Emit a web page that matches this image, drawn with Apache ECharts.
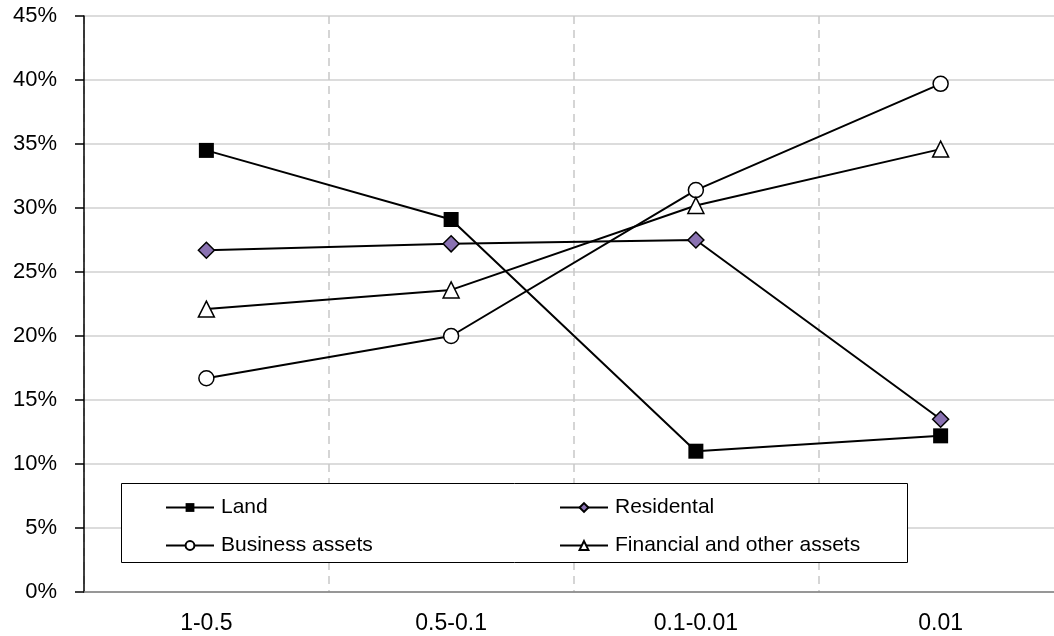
<!DOCTYPE html>
<html>
<head>
<meta charset="utf-8">
<style>html,body{margin:0;padding:0;background:#fff;overflow:hidden;}#chart{width:1063px;height:636px;}</style>
<script src="https://cdn.jsdelivr.net/npm/echarts@6/dist/echarts.min.js"></script>
</head>
<body>
<div id="chart"></div>
<script>
const categories = ['1-0.5', '0.5-0.1', '0.1-0.01', '0.01'];
const land = [34.5, 29.1, 11.0, 12.2];
const residental = [26.7, 27.2, 27.5, 13.5];
const business = [16.7, 20.0, 31.4, 39.7];
const financial = [22.1, 23.6, 30.2, 34.6];
const yTicks = [0, 5, 10, 15, 20, 25, 30, 35, 40, 45];

const chart = echarts.init(document.getElementById('chart'));
const FONT = 'Liberation Sans, Arial, sans-serif';
const lineStyle = { color: '#000', width: 2 };

function mkSeries(name, data, symbol, size, fill) {
  return {
    name: name, type: 'line', data: data,
    symbol: symbol, symbolSize: size,
    lineStyle: lineStyle,
    itemStyle: { color: fill, borderColor: '#000', borderWidth: symbol === 'rect' ? 0 : 1.5 },
    emphasis: { disabled: true },
    animation: false, z: 5
  };
}

function mkLegend(name, left, top) {
  return {
    data: [name], left: left, top: top,
    itemWidth: 48, itemHeight: 11, itemGap: 0,
    lineStyle: { width: 2, color: '#000' },
    textStyle: { fontFamily: FONT, fontSize: 21, color: '#000', padding: [0, 0, 0, 2] },
    selectedMode: false, z: 10
  };
}

chart.setOption({
  backgroundColor: '#fff',
  animation: false,
  grid: { left: 84, top: 16, right: 0, bottom: 44 },
  xAxis: {
    type: 'category', data: categories, boundaryGap: true,
    axisLine: { lineStyle: { color: '#808080', width: 1.5 } },
    axisTick: { show: false },
    axisLabel: { fontFamily: FONT, fontSize: 23, color: '#000', margin: 20 },
    splitLine: { show: true, lineStyle: { color: '#c8c8c8', type: [8, 6], width: 1.5 } }
  },
  yAxis: {
    type: 'value', min: yTicks[0], max: yTicks[yTicks.length - 1], interval: 5,
    axisLine: { show: true, lineStyle: { color: '#000', width: 1.5 } },
    axisTick: { show: true, length: 9, lineStyle: { color: '#000', width: 1.5 } },
    axisLabel: { fontFamily: FONT, fontSize: 22, color: '#000', margin: 27, formatter: '{value}%' },
    splitLine: { show: true, lineStyle: { color: '#d0d0d0', width: 1.5 } }
  },
  legend: [
    mkLegend('Land', 160, 492),
    mkLegend('Residental', 554, 492),
    mkLegend('Business assets', 160, 530),
    mkLegend('Financial and other assets', 554, 530)
  ],
  graphic: [{
    type: 'rect', left: 121, top: 483, z: 8,
    shape: { width: 786, height: 79 },
    style: { fill: '#fff', stroke: '#000', lineWidth: 1 }
  }],
  series: [
    mkSeries('Land', land, 'rect', 15, '#000'),
    mkSeries('Residental', residental, 'diamond', 16, '#8a72b2'),
    mkSeries('Business assets', business, 'circle', 15, '#fff'),
    mkSeries('Financial and other assets', financial, 'triangle', 16, '#fff')
  ]
});
</script>
</body>
</html>
